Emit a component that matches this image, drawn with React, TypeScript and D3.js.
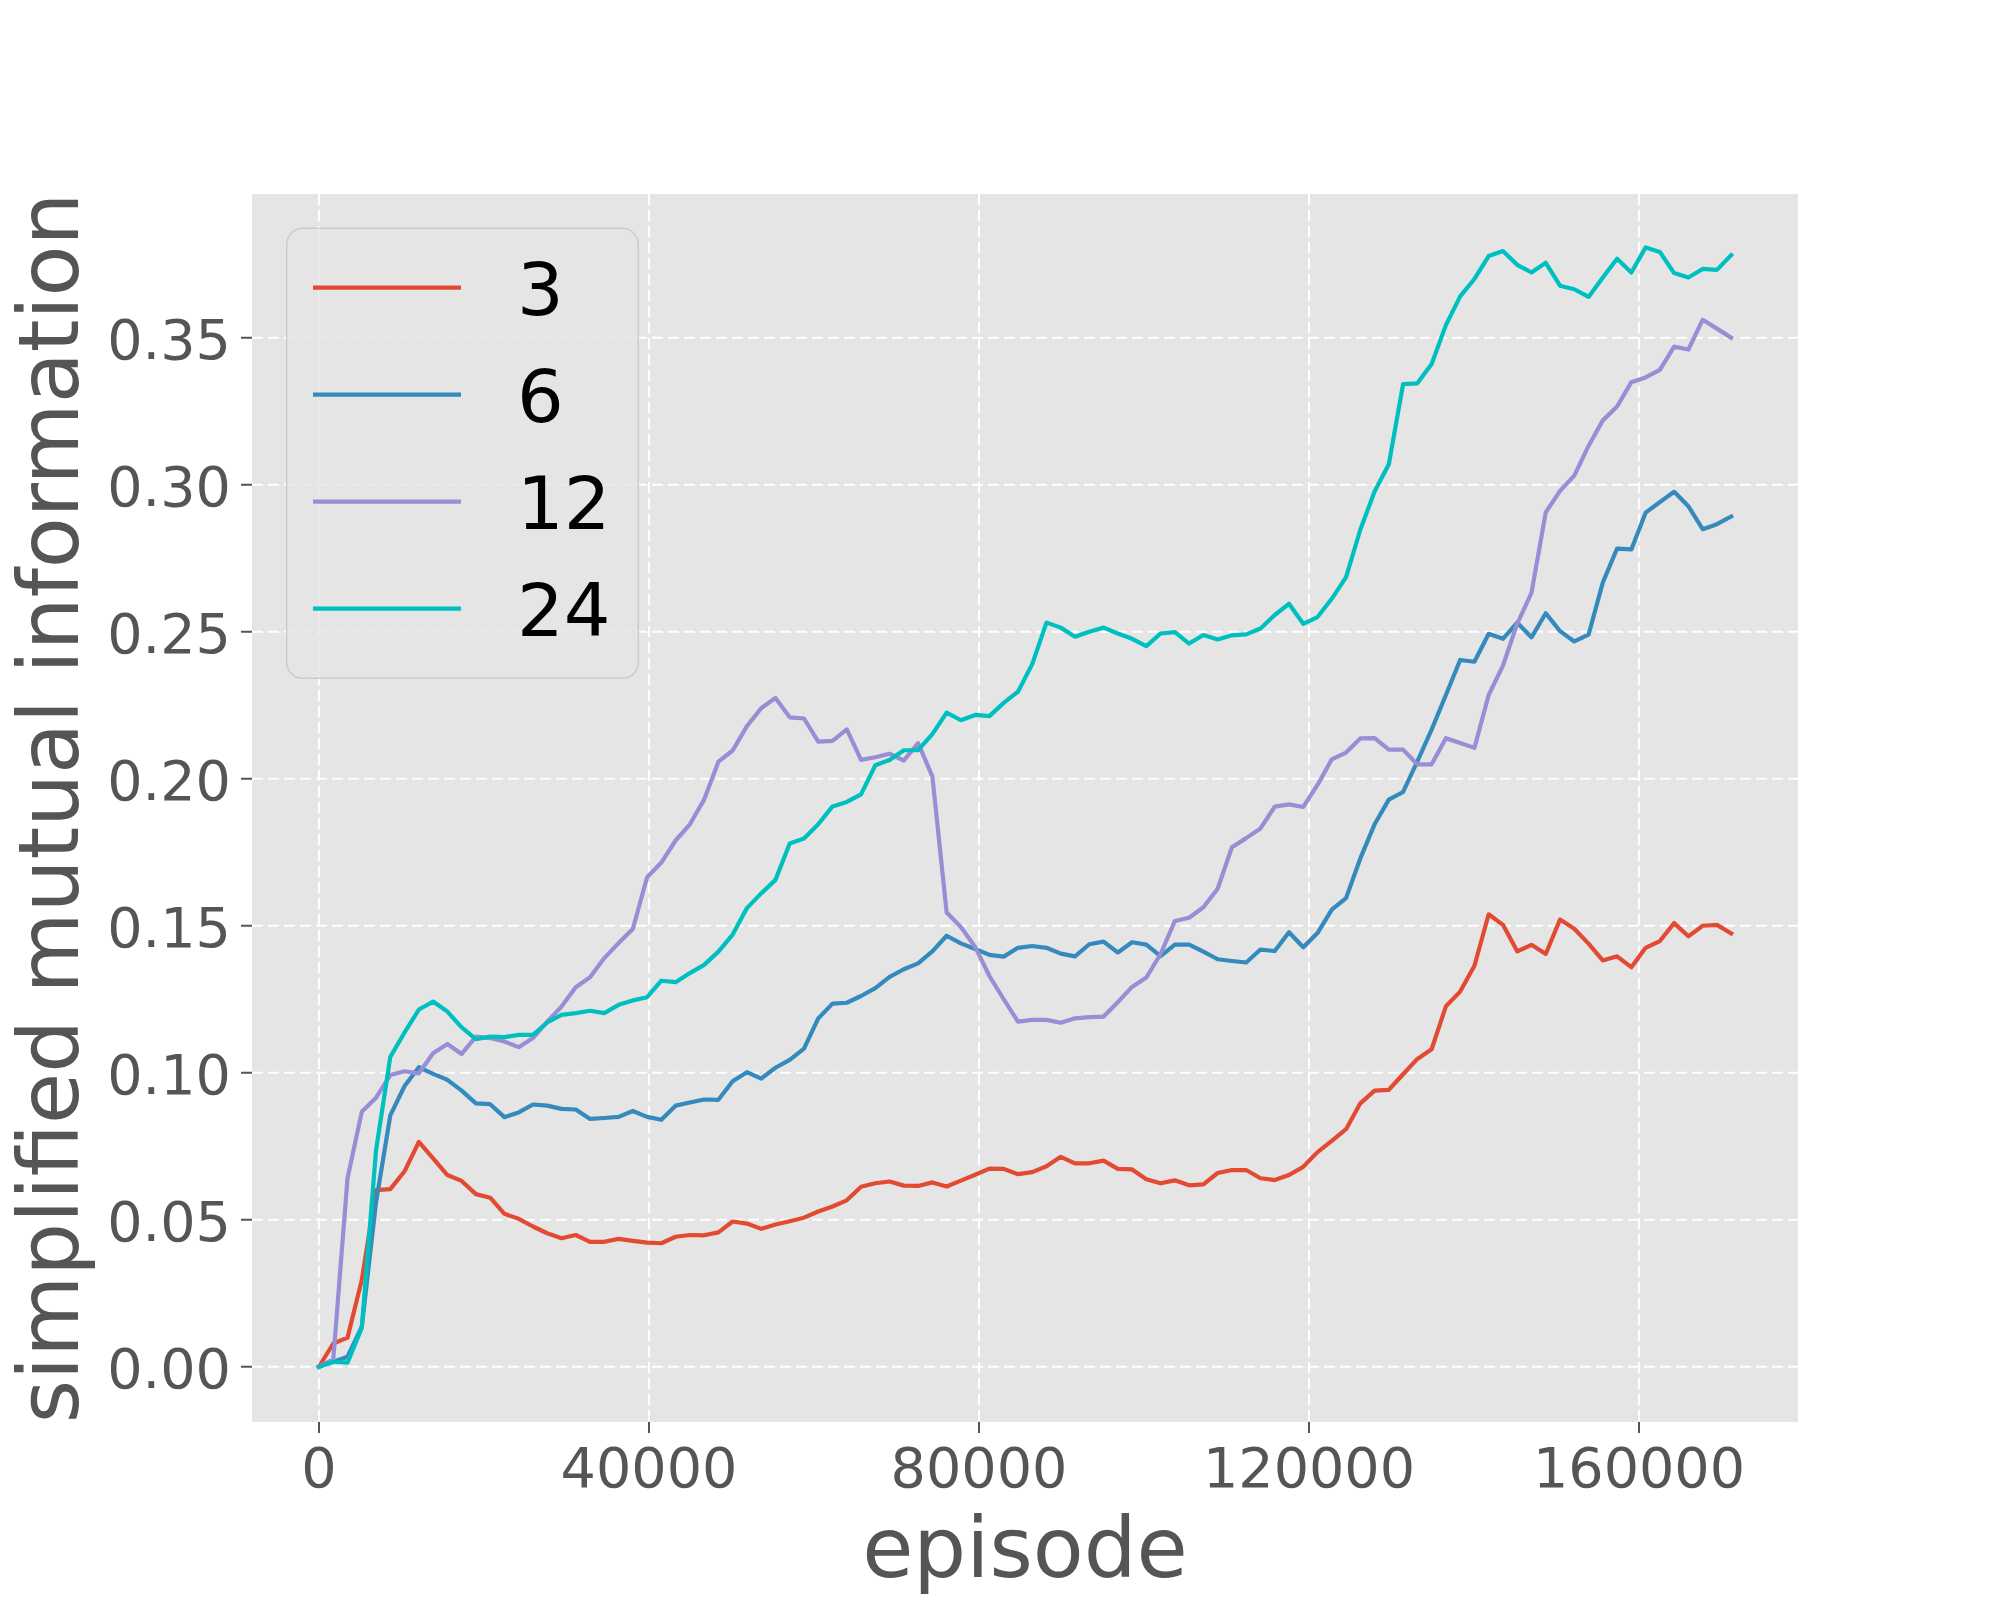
import React from "react";
import * as d3 from "d3";

// ---- data ----
const EPISODE_STEP = 1729;
const episodes: number[] = d3.range(100).map((i) => i * EPISODE_STEP);

const seriesNames = ["3", "6", "12", "24"];
const seriesColors = ["#E24A33", "#348ABD", "#988ED5", "#00BFBF"];

const mi3 = [
  0.0, 0.0079, 0.0099, 0.0295, 0.0601, 0.0604, 0.0665, 0.0765, 0.0709, 0.0652,
  0.0632, 0.0587, 0.0575, 0.052, 0.0503, 0.0477, 0.0454, 0.0437, 0.0448, 0.0425,
  0.0425, 0.0435, 0.0428, 0.0422, 0.042, 0.0442, 0.0448, 0.0447, 0.0457, 0.0494,
  0.0487, 0.0469, 0.0484, 0.0495, 0.0507, 0.0528, 0.0545, 0.0566, 0.0612, 0.0624,
  0.063, 0.0616, 0.0615, 0.0627, 0.0613, 0.0633, 0.0653, 0.0674, 0.0673, 0.0655,
  0.0662, 0.0682, 0.0714, 0.0692, 0.0692, 0.0701, 0.0673, 0.0671, 0.0638, 0.0624,
  0.0634, 0.0617, 0.062, 0.0659, 0.0669, 0.0669, 0.0641, 0.0635, 0.0652, 0.068,
  0.073, 0.0768, 0.0808, 0.0896, 0.0939, 0.0942, 0.0995, 0.1047, 0.108, 0.1226,
  0.1276, 0.1364, 0.1539, 0.1503, 0.1413, 0.1435, 0.1404, 0.1521, 0.149, 0.1439,
  0.1382, 0.1396, 0.1359, 0.1425, 0.1448, 0.1509, 0.1464, 0.15, 0.1503, 0.1474,
];

const mi6 = [
  0.0, 0.0017, 0.0034, 0.0136, 0.056, 0.0855, 0.0955, 0.1019, 0.0996, 0.0976,
  0.0939, 0.0896, 0.0893, 0.0849, 0.0865, 0.0892, 0.0888, 0.0877, 0.0875, 0.0843,
  0.0846, 0.085, 0.087, 0.085, 0.084, 0.0888, 0.0899, 0.0909, 0.0908, 0.0971,
  0.1002, 0.098, 0.1017, 0.1044, 0.1082, 0.1185, 0.1235, 0.1238, 0.1261, 0.1288,
  0.1326, 0.1352, 0.1372, 0.1413, 0.1466, 0.144, 0.1421, 0.1401, 0.1395, 0.1425,
  0.1431, 0.1425, 0.1405, 0.1396, 0.1437, 0.1446, 0.1409, 0.1444, 0.1436, 0.1397,
  0.1436, 0.1436, 0.1412, 0.1386, 0.138, 0.1375, 0.1419, 0.1414, 0.1478, 0.1427,
  0.1475, 0.1555, 0.1594, 0.1729, 0.1845, 0.1929, 0.1955, 0.2059, 0.2167, 0.2285,
  0.2404, 0.2398, 0.2493, 0.2476, 0.2531, 0.2481, 0.2563, 0.2502, 0.2467, 0.249,
  0.2667, 0.2783, 0.278, 0.2905, 0.2941, 0.2976, 0.2927, 0.2849, 0.2866, 0.2892,
];

const mi12 = [
  0.0, 0.0025, 0.0641, 0.0867, 0.0915, 0.0992, 0.1005, 0.0998, 0.1066, 0.1098,
  0.1064, 0.1123, 0.1118, 0.1106, 0.1087, 0.1118, 0.1174, 0.1225, 0.1291, 0.1325,
  0.139, 0.1441, 0.1489, 0.1665, 0.1715, 0.179, 0.1845, 0.1929, 0.2058, 0.2096,
  0.2179, 0.224, 0.2275, 0.2209, 0.2205, 0.2126, 0.2129, 0.2168, 0.2064, 0.2073,
  0.2085, 0.2062, 0.2121, 0.2008, 0.1545, 0.1496, 0.1428, 0.1329, 0.125, 0.1174,
  0.118, 0.118, 0.117, 0.1185, 0.1189, 0.1191, 0.124, 0.1292, 0.1324, 0.1404,
  0.1516, 0.1527, 0.1563, 0.1626, 0.1767, 0.1798, 0.1831, 0.1905, 0.1913, 0.1904,
  0.1979, 0.2066, 0.2089, 0.2137, 0.2138, 0.2099, 0.2099, 0.2049, 0.2049, 0.2138,
  0.2122, 0.2105, 0.2285, 0.2385, 0.2528, 0.2632, 0.2906, 0.2979, 0.3031, 0.3132,
  0.3219, 0.3266, 0.3349, 0.3365, 0.3391, 0.347, 0.346, 0.3561, 0.3531, 0.35,
];

const mi24 = [
  0.0, 0.0017, 0.0014, 0.0132, 0.0737, 0.1054, 0.1137, 0.1215, 0.1242, 0.1208,
  0.1154, 0.1114, 0.1123, 0.1121, 0.1129, 0.1129, 0.1171, 0.1197, 0.1203, 0.1211,
  0.1203, 0.1231, 0.1246, 0.1257, 0.1313, 0.1308, 0.1339, 0.1367, 0.1412, 0.147,
  0.156, 0.161, 0.1656, 0.178, 0.1797, 0.1845, 0.1906, 0.1921, 0.1947, 0.2046,
  0.2064, 0.2097, 0.2097, 0.2152, 0.2225, 0.2199, 0.2217, 0.2213, 0.2258, 0.2296,
  0.239, 0.2531, 0.2514, 0.2483, 0.25, 0.2514, 0.2494, 0.2476, 0.2451, 0.2494,
  0.2499, 0.246, 0.2489, 0.2474, 0.2488, 0.2491, 0.2511, 0.2557, 0.2595, 0.2527,
  0.255, 0.2612, 0.2686, 0.2847, 0.2977, 0.307, 0.3342, 0.3345, 0.3411, 0.3543,
  0.3641, 0.37, 0.3778, 0.3795, 0.3748, 0.3722, 0.3755, 0.3677, 0.3665, 0.3639,
  0.3705, 0.3769, 0.3722, 0.3807, 0.3792, 0.372, 0.3705, 0.3734, 0.3731, 0.3781,
];

const seriesValues = [mi3, mi6, mi12, mi24];

const xTicks = [0, 40000, 80000, 120000, 160000];
const yTicks = [0, 0.05, 0.1, 0.15, 0.2, 0.25, 0.3, 0.35];

const xLabel = "episode";
const yLabel = "simplified mutual information";

// ---- layout ----
const W = 2000;
const H = 1600;
const AX = { left: 252, right: 1798, top: 194, bottom: 1422 };
const FONT = "'DejaVu Sans', sans-serif";
const TICK_COLOR = "#555555";

export default function App() {
  const x = d3.scaleLinear().domain([-8120, 179270]).range([AX.left, AX.right]);
  const y = d3.scaleLinear().domain([-0.0188, 0.3989]).range([AX.bottom, AX.top]);

  const line = d3
    .line<number>()
    .x((_, i) => x(episodes[i]))
    .y((d) => y(d));

  const legendX0 = 313;
  const legendX1 = 461;
  const legendY0 = 287.7;
  const legendDy = 107;

  return (
    <svg
      width={W}
      height={H}
      style={{ position: "absolute", left: 0, top: 0, background: "#ffffff" }}
      fontFamily={FONT}
    >
      <rect x={0} y={0} width={W} height={H} fill="#ffffff" />
      <rect
        x={AX.left}
        y={AX.top}
        width={AX.right - AX.left}
        height={AX.bottom - AX.top}
        fill="#E5E5E5"
      />
      {/* grid */}
      <g stroke="#ffffff" strokeWidth={2} strokeDasharray="11 5">
        {xTicks.map((t) => (
          <line key={"gx" + t} x1={x(t)} x2={x(t)} y1={AX.top} y2={AX.bottom} />
        ))}
        {yTicks.map((t) => (
          <line key={"gy" + t} x1={AX.left} x2={AX.right} y1={y(t)} y2={y(t)} />
        ))}
      </g>

      {/* series */}
      <g fill="none" strokeWidth={4.2} strokeLinejoin="round" strokeLinecap="square">
        {seriesValues.map((vals, k) => (
          <path key={seriesNames[k]} d={line(vals) || ""} stroke={seriesColors[k]} />
        ))}
      </g>

      {/* x axis ticks */}
      <g>
        {xTicks.map((t) => (
          <g key={"xt" + t}>
            <line
              x1={x(t)}
              x2={x(t)}
              y1={AX.bottom}
              y2={AX.bottom + 11}
              stroke={TICK_COLOR}
              strokeWidth={2}
            />
            <text
              x={x(t)}
              y={AX.bottom + 65}
              textAnchor="middle"
              fontSize={55.6}
              fill={TICK_COLOR}
            >
              {String(t)}
            </text>
          </g>
        ))}
      </g>

      {/* y axis ticks */}
      <g>
        {yTicks.map((t) => (
          <g key={"yt" + t}>
            <line
              x1={AX.left - 11}
              x2={AX.left}
              y1={y(t)}
              y2={y(t)}
              stroke={TICK_COLOR}
              strokeWidth={2}
            />
            <text
              x={AX.left - 21}
              y={y(t) + 21}
              textAnchor="end"
              fontSize={55.6}
              fill={TICK_COLOR}
            >
              {d3.format(".2f")(t)}
            </text>
          </g>
        ))}
      </g>

      {/* axis labels */}
      <text
        x={(AX.left + AX.right) / 2}
        y={1577}
        textAnchor="middle"
        fontSize={83.3}
        fill={TICK_COLOR}
      >
        {xLabel}
      </text>
      <text
        transform={`translate(78, ${(AX.top + AX.bottom) / 2}) rotate(-90)`}
        textAnchor="middle"
        fontSize={83.3}
        fill={TICK_COLOR}
      >
        {yLabel}
      </text>

      {/* legend */}
      <rect
        x={286.7}
        y={228.3}
        width={351.6}
        height={450}
        rx={16}
        ry={16}
        fill="#E5E5E5"
        fillOpacity={0.8}
        stroke="#CCCCCC"
        strokeWidth={1.5}
      />
      {seriesNames.map((name, k) => (
        <g key={"lg" + name}>
          <line
            x1={legendX0}
            x2={legendX1}
            y1={legendY0 + k * legendDy}
            y2={legendY0 + k * legendDy}
            stroke={seriesColors[k]}
            strokeWidth={4.2}
          />
          <text
            x={517}
            y={legendY0 + k * legendDy + 27}
            fontSize={73.5}
            fill="#000000"
          >
            {name}
          </text>
        </g>
      ))}
    </svg>
  );
}
